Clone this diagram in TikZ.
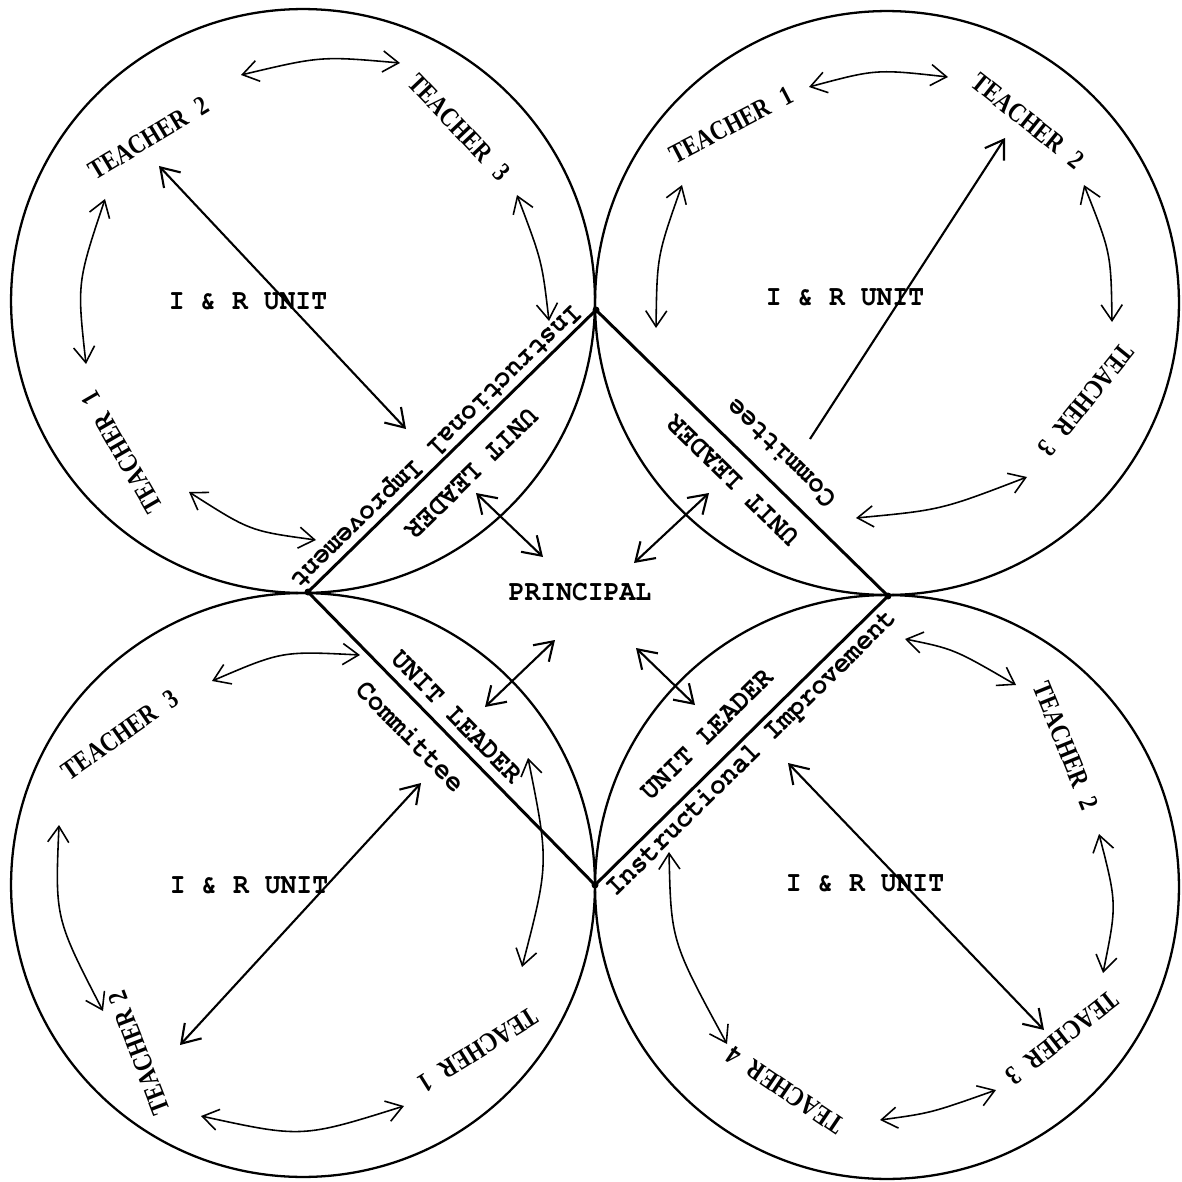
\documentclass[tikz,border=0pt]{standalone}
\usepackage[T1]{fontenc}
\usepackage{fontspec}
\newfontfamily\tchfont[FakeStretch=0.82]{Liberation Serif}
\usetikzlibrary{arrows.meta}
\begin{document}
\begin{tikzpicture}[x=0.02cm,y=-0.02cm,
  ring/.style={line width=1.3pt},
  chord/.style={line width=1.7pt},
  link/.style={line width=1.2pt,{Straight Barb[length=10pt,width=13pt]}-{Straight Barb[length=10pt,width=13pt]}},
  oneway/.style={line width=1.2pt,-{Straight Barb[length=10pt,width=13pt]}},
  swing/.style={line width=0.9pt,{Straight Barb[length=9pt,width=12pt]}-{Straight Barb[length=9pt,width=12pt]}},
  tw/.style={font={\fontencoding{T1}\fontfamily{pcr}\fontseries{b}\fontshape{n}\fontsize{16.5}{19}\selectfont}, inner sep=0pt, xscale=0.91},
  tch/.style={font={\tchfont\bfseries\fontsize{15.5}{17}\selectfont}, inner sep=0pt},
]
\useasboundingbox[fill=white] (0,0) rectangle (1181,1182);

% circles
\coordinate (cTL) at (303,301);
\coordinate (cTR) at (887,303);
\coordinate (cBL) at (303,885);
\coordinate (cBR) at (887,887);
\draw[ring] (cTL) circle[radius=5.84cm];
\draw[ring] (cTR) circle[radius=5.84cm];
\draw[ring] (cBL) circle[radius=5.84cm];
\draw[ring] (cBR) circle[radius=5.84cm];

% chords
\coordinate (pT) at (596,310);
\coordinate (pL) at (308,592);
\coordinate (pR) at (888,596);
\coordinate (pB) at (595,885);
\draw[chord] (pT) -- (pL);
\draw[chord] (pT) -- (pR);
\draw[chord] (pL) -- (pB);
\draw[chord] (pR) -- (pB);
\foreach \p in {pT,pL,pR,pB} \fill (\p) circle[radius=0.07cm];

% central labels
\node[tw] (prin) at (580,592) {PRINCIPAL};
\node[tw] (unitTL) at (248,302) {I \& R UNIT};
\node[tw] (unitTR) at (845,298) {I \& R UNIT};
\node[tw] (unitBL) at (249,886) {I \& R UNIT};
\node[tw] (unitBR) at (865,884) {I \& R UNIT};

% chord labels
\node[rotate=224.4,tw] (iiTL) at (436,447) {Instructional Improvement};
\node[rotate=224.4,tw] (ulTL) at (471,473) {UNIT LEADER};
\node[rotate=135.6,tw] (cmTR) at (780,454) {Committee};
\node[rotate=135.6,tw] (ulTR) at (733,480) {UNIT LEADER};
\node[rotate=-45.6,tw] (ulBL) at (456,717) {UNIT LEADER};
\node[rotate=-45.6,tw] (cmBL) at (411,736) {Committee};
\node[rotate=44.6,tw] (ulBR) at (707,735) {UNIT LEADER};
\node[rotate=44.6,tw] (iiBR) at (751,753) {Instructional Improvement};

% teachers
\node[tch,rotate=31] (t2TL) at (149,138) {TEACHER\hspace{0.5em}2};
\node[tch,rotate=-46.5] (t3TL) at (459,127) {TEACHER\hspace{0.5em}3};
\node[tch,rotate=120] (t1TL) at (122,452) {TEACHER\hspace{0.5em}1};
\node[tch,rotate=27.5] (t1TR) at (731,125) {TEACHER\hspace{0.5em}1};
\node[tch,rotate=-38.7] (t2TR) at (1028,121) {TEACHER\hspace{0.5em}2};
\node[tch,rotate=-129] (t3TR) at (1086,400) {TEACHER\hspace{0.5em}3};
\node[tch,rotate=35] (t3BL) at (120,735) {TEACHER\hspace{0.5em}3};
\node[tch,rotate=111] (t2BL) at (139,1053) {TEACHER\hspace{0.3em}2};
\node[tch,rotate=212] (t1BL) at (478,1050) {TEACHER\hspace{0.5em}1};
\node[tch,rotate=-68] (t2BR) at (1066,746) {TEACHER\hspace{0.5em}2};
\node[tch,rotate=218] (t3BR) at (1062,1038) {TEACHER\hspace{0.5em}3};
\node[tch,rotate=146] (t4BR) at (785,1090) {TEACHER\hspace{0.5em}4};

% arrow end points
\coordinate (a1s) at (241,75);  \coordinate (a1c) at (321,56);  \coordinate (a1e) at (400,63);
\coordinate (a2s) at (105,199); \coordinate (a2c) at (77,283);  \coordinate (a2e) at (86,364);
\coordinate (a3s) at (517,195); \coordinate (a3c) at (542,261); \coordinate (a3e) at (549,321);
\coordinate (a4s) at (189,492); \coordinate (a4c) at (250,531); \coordinate (a4e) at (316,540);
\coordinate (a5s) at (159,166); \coordinate (a5e) at (406,429);

\coordinate (b1s) at (809,87);  \coordinate (b1c) at (876,69);  \coordinate (b1e) at (948,77);
\coordinate (b2s) at (682,185); \coordinate (b2c) at (657,256); \coordinate (b2e) at (656,328);
\coordinate (b3s) at (1084,185);\coordinate (b3c) at (1111,253);\coordinate (b3e) at (1112,322);
\coordinate (b4s) at (1027,477);\coordinate (b4c) at (941,510); \coordinate (b4e) at (856,518);
\coordinate (b5s) at (810,439); \coordinate (b5e) at (1005,138);

\coordinate (c1s) at (212,681); \coordinate (c1c) at (282,651); \coordinate (c1e) at (360,655);
\coordinate (c2s) at (59,825);  \coordinate (c2c) at (55,918);  \coordinate (c2e) at (103,1011);
\coordinate (c3s) at (528,758); \coordinate (c3c) at (549,863); \coordinate (c3e) at (522,967);
\coordinate (c4s) at (201,1116);\coordinate (c4c) at (302,1138);\coordinate (c4e) at (404,1106);
\coordinate (c5s) at (180,1045);\coordinate (c5e) at (421,783);

\coordinate (d1s) at (905,639); \coordinate (d1c) at (954,649); \coordinate (d1e) at (1016,685);
\coordinate (d2s) at (1099,834);\coordinate (d2c) at (1117,904);\coordinate (d2e) at (1103,973);
\coordinate (d3s) at (996,1090);\coordinate (d3c) at (931,1113);\coordinate (d3e) at (880,1120);
\coordinate (d4s) at (669,852); \coordinate (d4c) at (671,941); \coordinate (d4e) at (727,1044);
\coordinate (d5s) at (788,763); \coordinate (d5e) at (1044,1030);

\coordinate (e1s) at (476,493); \coordinate (e1e) at (543,557);
\coordinate (e2s) at (709,493); \coordinate (e2e) at (634,563);
\coordinate (e3s) at (485,707); \coordinate (e3e) at (555,640);
\coordinate (e4s) at (636,648); \coordinate (e4e) at (695,705);

% curved arrows between teachers
\draw[swing] (a1s) .. controls (a1c) .. (a1e);
\draw[swing] (a2s) .. controls (a2c) .. (a2e);
\draw[swing] (a3s) .. controls (a3c) .. (a3e);
\draw[swing] (a4s) .. controls (a4c) .. (a4e);
\draw[swing] (b1s) .. controls (b1c) .. (b1e);
\draw[swing] (b2s) .. controls (b2c) .. (b2e);
\draw[swing] (b3s) .. controls (b3c) .. (b3e);
\draw[swing] (b4s) .. controls (b4c) .. (b4e);
\draw[swing] (c1s) .. controls (c1c) .. (c1e);
\draw[swing] (c2s) .. controls (c2c) .. (c2e);
\draw[swing] (c3s) .. controls (c3c) .. (c3e);
\draw[swing] (c4s) .. controls (c4c) .. (c4e);
\draw[swing] (d1s) .. controls (d1c) .. (d1e);
\draw[swing] (d2s) .. controls (d2c) .. (d2e);
\draw[swing] (d3s) .. controls (d3c) .. (d3e);
\draw[swing] (d4s) .. controls (d4c) .. (d4e);

% long arrows
\draw[link] (a5s) -- (a5e);
\draw[oneway] (b5s) -- (b5e);
\draw[link] (c5s) -- (c5e);
\draw[link] (d5s) -- (d5e);

% unit leader <-> principal
\draw[link] (e1s) -- (e1e);
\draw[link] (e2s) -- (e2e);
\draw[link] (e3s) -- (e3e);
\draw[link] (e4s) -- (e4e);
\end{tikzpicture}
\end{document}
